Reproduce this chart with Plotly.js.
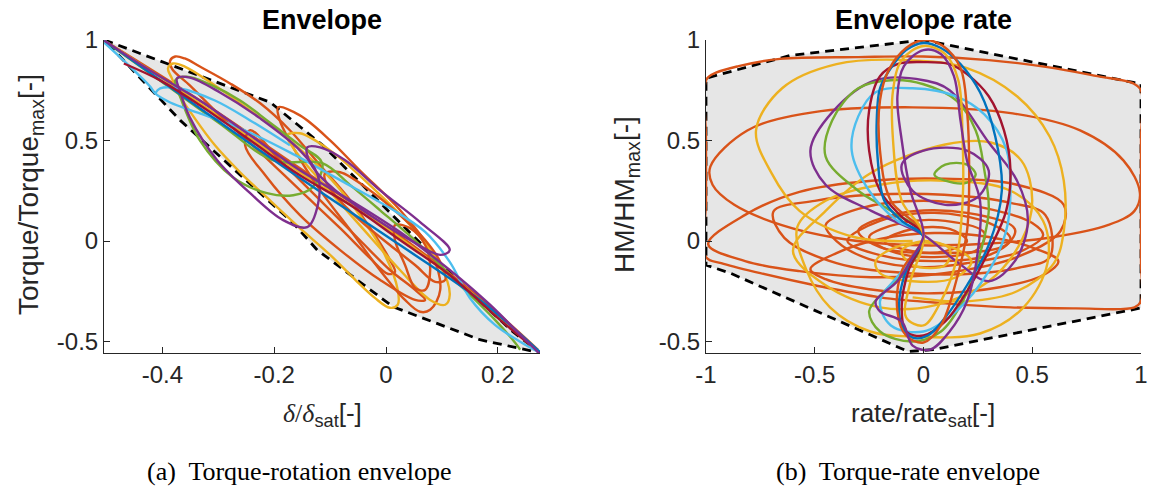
<!DOCTYPE html>
<html>
<head>
<meta charset="utf-8">
<script src="https://cdn.plot.ly/plotly-3.0.1.min.js"></script>
<style>html,body{margin:0;padding:0;background:#fff;}#plot{width:1149px;height:490px;}</style>
</head>
<body>
<div id="plot"></div>
<script>
// ---------- Left panel: torque vs rotation (delta/delta_sat, Torque/Torque_max) ----------
const envLeftX = [-0.504, -0.207, -0.113, -0.011, 0.136, 0.227, 0.2755, 0.168, 0.0125, -0.123, -0.166, -0.368, -0.504];
const envLeftY = [1.0, 0.69, 0.476, 0.193, -0.218, -0.451, -0.556, -0.491, -0.327, -0.045, 0.089, 0.60, 1.0];

const lOrange1X = [-0.386,-0.377,-0.360,-0.333,-0.279,-0.225,-0.172,-0.118,-0.064,-0.020,0.007,0.016,0.004,-0.029,-0.082,-0.154,-0.225,-0.297,-0.351,-0.383,-0.386];
const lOrange1Y = [0.898,0.918,0.908,0.868,0.784,0.685,0.551,0.377,0.203,0.030,-0.094,-0.154,-0.164,-0.084,0.064,0.253,0.441,0.625,0.774,0.858,0.898];
const lYellow1X = [-0.390,-0.381,-0.360,-0.306,-0.243,-0.172,-0.100,-0.047,-0.002,0.021,0.021,0.007,-0.020,-0.055,-0.100,-0.154,-0.208,-0.261,-0.306,-0.342,-0.369,-0.383,-0.390];
const lYellow1Y = [0.858,0.883,0.868,0.774,0.650,0.501,0.313,0.129,-0.069,-0.243,-0.317,-0.332,-0.283,-0.193,-0.069,0.064,0.203,0.342,0.476,0.610,0.724,0.809,0.858];
const lGreen1X = [-0.377,-0.356,-0.315,-0.261,-0.208,-0.154,-0.114,-0.131,-0.166,-0.213,-0.274,-0.333,-0.369,-0.377];
const lGreen1Y = [0.799,0.818,0.779,0.699,0.590,0.476,0.387,0.268,0.228,0.238,0.317,0.501,0.724,0.799];
const lGreen2X = [-0.504,-0.40,-0.30,-0.20,-0.114,-0.064,-0.011,0.061,0.132,0.195,0.231,0.240];
const lGreen2Y = [0.997,0.79,0.59,0.40,0.387,0.278,0.154,-0.020,-0.218,-0.392,-0.506,-0.541];
const lCyan1X = [-0.504,-0.458,-0.422,-0.413,-0.386,-0.333,-0.261,-0.172,-0.082,0.007,0.070,0.114,0.150,0.195,0.240,0.272];
const lCyan1Y = [0.987,0.868,0.769,0.734,0.689,0.635,0.561,0.441,0.303,0.164,0.045,-0.104,-0.283,-0.417,-0.501,-0.551];
const lCyan2X = [-0.413,-0.404,-0.369,-0.306,-0.243,-0.172];
const lCyan2Y = [0.734,0.759,0.759,0.699,0.600,0.476];
const lPurple1X = [-0.374,-0.351,-0.297,-0.225,-0.154,-0.122,-0.122,-0.141,-0.184,-0.243,-0.302,-0.351,-0.369,-0.374];
const lPurple1Y = [0.809,0.813,0.739,0.610,0.451,0.327,0.179,0.069,0.104,0.238,0.402,0.615,0.749,0.809];
const lPurple2X = [-0.141,-0.118,-0.073,-0.011,0.061,0.114,0.097,0.043,-0.029,-0.091,-0.127,-0.141,-0.141];
const lPurple2Y = [0.466,0.466,0.402,0.253,0.094,-0.045,-0.069,0.005,0.129,0.253,0.352,0.427,0.466];
const lPurple3X = [-0.504,-0.422,-0.333,-0.243,-0.154,-0.064,0.025,0.114,0.186,0.240,0.275];
const lPurple3Y = [0.997,0.848,0.699,0.526,0.352,0.203,0.045,-0.144,-0.317,-0.466,-0.561];
const lRedX = [-0.469,-0.404,-0.333,-0.243,-0.154,-0.064,0.025,0.114,0.204,0.258];
const lRedY = [0.883,0.799,0.675,0.501,0.327,0.179,0.005,-0.169,-0.392,-0.516];
const lBlueX = [-0.504,-0.333,-0.154,0.025,0.168,0.275];
const lBlueY = [0.997,0.660,0.313,-0.020,-0.293,-0.551];
const lOrange2X = [-0.193,-0.154,-0.100,-0.047,0.025,0.079,0.097,0.079,0.061,0.034,-0.011,-0.064,-0.118,-0.163,-0.190,-0.193];
const lOrange2Y = [0.665,0.625,0.501,0.352,0.154,-0.045,-0.243,-0.342,-0.352,-0.293,-0.144,0.055,0.253,0.451,0.600,0.665];
const lYellow2X = [-0.177,-0.154,-0.100,-0.029,0.043,0.097,0.114,0.106,0.079,0.025,-0.047,-0.118,-0.163,-0.177];
const lYellow2Y = [0.526,0.536,0.451,0.278,0.079,-0.119,-0.268,-0.317,-0.293,-0.144,0.079,0.303,0.451,0.526];
const lOrange3X = [-0.109,-0.082,-0.029,0.025,0.070,0.097,0.106,0.088,0.052,0.007,-0.047,-0.091,-0.109,-0.109];
const lOrange3Y = [0.337,0.342,0.253,0.129,0.005,-0.104,-0.193,-0.203,-0.119,-0.020,0.104,0.228,0.303,0.337];
const lOrange4X = [-0.243,-0.190,-0.118,-0.047,0.007,0.052,0.070,0.052,-0.011,-0.082,-0.154,-0.216,-0.252,-0.243];
const lOrange4Y = [0.551,0.402,0.203,0.005,-0.144,-0.243,-0.293,-0.293,-0.193,-0.045,0.129,0.327,0.476,0.551];
const lOrange5X = [0.016,0.043,0.070,0.079,0.070,0.052,0.034,0.016,0.016];
const lOrange5Y = [0.079,0.064,-0.020,-0.144,-0.243,-0.233,-0.119,0.005,0.079];
const lYellow3X = [-0.504,-0.333,-0.154,0.025,0.168,0.267];
const lYellow3Y = [0.997,0.684,0.342,0.015,-0.293,-0.541];
const lOrange6X = [-0.504,-0.333,-0.154,0.025,0.168,0.272];
const lOrange6Y = [0.997,0.699,0.362,0.025,-0.283,-0.541];

// ---------- Right panel: torque vs rate (rate/rate_sat, HM/HM_max) ----------
const envRightX = [0.0, -0.614, -1.0, -1.0, -0.89, -0.07, 0.045, 1.0, 1.0, 0.965, 0.0];
const envRightY = [1.0, 0.923, 0.81, -0.12, -0.159, -0.55, -0.54, -0.333, 0.78, 0.789, 1.0];

const rOuterX = [-1.0,-0.97,-0.85,-0.66,-0.3,0.0,0.3,0.57,0.8,0.965,1.0,1.0,1.0,1.0,1.0,0.97,0.7,0.4,0.1,-0.2,-0.5,-0.75,-0.93,-1.0,-1.0,-1.0,-1.0];
const rOuterY = [0.80,0.83,0.87,0.906,0.915,0.918,0.90,0.865,0.82,0.784,0.75,0.5,0.2,-0.1,-0.30,-0.33,-0.335,-0.33,-0.31,-0.28,-0.22,-0.16,-0.11,-0.08,0.2,0.5,0.80];
const rOr1X = [-0.98,-0.81,-0.51,-0.05,0.41,0.72,0.92,0.995,0.97,0.85,0.6,0.26,-0.07,-0.4,-0.655,-0.87,-0.97,-0.98];
const rOr1Y = [0.37,0.55,0.64,0.665,0.635,0.55,0.40,0.24,0.15,0.08,0.02,-0.015,-0.02,0.015,0.08,0.18,0.28,0.37];
const rOr2X = [-0.99,-0.82,-0.57,-0.24,0.095,0.43,0.645,0.63,0.43,0.095,-0.24,-0.57,-0.82,-0.99];
const rOr2Y = [-0.016,0.13,0.245,0.30,0.31,0.28,0.18,0.05,-0.08,-0.16,-0.18,-0.15,-0.10,-0.016];
const rOr3X = [-0.69,-0.5,-0.24,0.095,0.4,0.56,0.58,0.45,0.26,-0.07,-0.4,-0.64,-0.69];
const rOr3Y = [0.147,0.2,0.23,0.23,0.19,0.13,-0.08,-0.13,-0.16,-0.16,-0.11,0.016,0.147];
const rOr4X = [-0.52,-0.4,-0.2,0.05,0.3,0.52,0.62,0.55,0.35,0.05,-0.25,-0.45,-0.52];
const rOr4Y = [-0.14,-0.06,0.01,0.04,0.02,-0.04,-0.10,-0.17,-0.23,-0.26,-0.24,-0.19,-0.14];
const rOr5X = [-0.45,-0.3,0.0,0.3,0.5,0.55,0.45,0.2,0.0,-0.25,-0.4,-0.45];
const rOr5Y = [0.08,0.16,0.20,0.16,0.09,0.03,-0.05,-0.11,-0.13,-0.09,0.0,0.08];
const rOr6X = [-0.35,-0.2,0.05,0.3,0.4,0.3,0.05,-0.2,-0.35];
const rOr6Y = [0.0,0.10,0.14,0.09,0.01,-0.07,-0.10,-0.07,0.0];
const rOr7X = [-0.25,-0.1,0.1,0.28,0.25,0.05,-0.15,-0.25];
const rOr7Y = [0.02,0.09,0.10,0.04,-0.04,-0.08,-0.05,0.02];
const rOr8X = [-0.18,-0.05,0.12,0.2,0.1,-0.05,-0.18];
const rOr8Y = [0.0,0.06,0.06,0.0,-0.05,-0.05,0.0];
const rOr9X = [-0.3,-0.1,0.2,0.42,0.38,0.1,-0.2,-0.3];
const rOr9Y = [0.05,0.14,0.14,0.06,-0.02,-0.06,-0.03,0.05];
const rYe1X = [-0.05,-0.32,-0.57,-0.70,-0.77,-0.65,-0.4,-0.07,0.2,0.43,0.58,0.645,0.645,0.6,0.43,0.2,-0.05];
const rYe1Y = [0.0,0.02,0.15,0.34,0.55,0.76,0.88,0.90,0.86,0.72,0.52,0.30,0.05,-0.11,-0.25,-0.30,-0.28];
const rYe2X = [-0.6,-0.45,-0.24,0.1,0.31,0.45,0.5,0.45,0.3,0.05,-0.2,-0.45,-0.6];
const rYe2Y = [-0.05,0.15,0.34,0.48,0.49,0.40,0.2,0.0,-0.2,-0.32,-0.33,-0.22,-0.05];
const rYe3X = [-0.58,-0.54,-0.43,-0.245,-0.05,0.26,0.46,0.57,0.55,0.4,0.1,-0.2,-0.45,-0.58];
const rYe3Y = [0.07,-0.14,-0.33,-0.45,-0.475,-0.46,-0.33,-0.11,0.1,0.25,0.3,0.28,0.2,0.07];
const rYe4X = [-0.22,-0.1,0.1,0.22,0.15,-0.05,-0.2,-0.22];
const rYe4Y = [-0.1,-0.02,-0.02,-0.1,-0.18,-0.2,-0.16,-0.1];
const rYe5X = [-0.1,0.0,0.12,0.1,-0.05,-0.1];
const rYe5Y = [-0.05,0.0,-0.04,-0.12,-0.12,-0.05];
const rBlueX = [0,-0.1,-0.18,-0.21,-0.215,-0.2,-0.15,-0.08,0,0.08,0.17,0.26,0.33,0.36,0.3,0.2,0.1,0.02,-0.05,-0.1,-0.11,-0.07,0];
const rBlueY = [0.02,0.1,0.2,0.4,0.6,0.76,0.86,0.95,0.985,0.96,0.88,0.74,0.52,0.25,-0.02,-0.22,-0.38,-0.47,-0.48,-0.42,-0.28,-0.12,0.02];
const rOrTallX = [0,-0.15,-0.2,-0.2,-0.16,-0.08,0,0.09,0.17,0.2,0.21,0.2,0.15,0.08,0.0,-0.08,-0.12,-0.1,0];
const rOrTallY = [0.03,0.2,0.45,0.7,0.85,0.96,1.0,0.97,0.86,0.65,0.35,0.05,-0.2,-0.42,-0.505,-0.47,-0.35,-0.15,0.03];
const rYeTallX = [0,-0.1,-0.14,-0.14,-0.1,0,0.1,0.16,0.18,0.18,0.15,0.08,0.0,-0.08,-0.06,0];
const rYeTallY = [0.03,0.2,0.5,0.75,0.9,0.97,0.93,0.8,0.5,0.2,-0.1,-0.3,-0.42,-0.38,-0.2,0.03];
const rPuTallX = [0,-0.06,-0.1,-0.12,-0.09,0,0.08,0.14,0.17,0.2,0.26,0.25,0.2,0.12,0.03,-0.05,-0.1,-0.2,-0.22,-0.12,-0.05,0];
const rPuTallY = [0.03,0.25,0.5,0.72,0.87,0.95,0.93,0.82,0.6,0.4,0.2,-0.05,-0.3,-0.45,-0.54,-0.52,-0.4,-0.35,-0.3,-0.2,-0.08,0.03];
const rRedX = [0,-0.1,-0.2,-0.25,-0.25,-0.2,-0.12,0,0.12,0.2,0.3,0.37,0.4,0.38,0.3,0.2,0.1,0.0,-0.08,-0.1,-0.07,0];
const rRedY = [0.03,0.12,0.25,0.45,0.65,0.82,0.88,0.89,0.88,0.83,0.72,0.55,0.35,0.15,-0.05,-0.25,-0.4,-0.47,-0.45,-0.32,-0.15,0.03];
const rGreenX = [0,-0.15,-0.3,-0.45,-0.42,-0.3,-0.15,0.0,0.15,0.24,0.28,0.3,0.25,0.18,0.08,-0.05,-0.2,-0.25,-0.18,-0.08,0];
const rGreenY = [0.03,0.15,0.25,0.42,0.6,0.76,0.8,0.78,0.7,0.55,0.35,0.15,-0.1,-0.3,-0.45,-0.5,-0.45,-0.35,-0.25,-0.15,0.03];
const rGreen2X = [0.05,0.1,0.2,0.24,0.2,0.1,0.05];
const rGreen2Y = [0.33,0.38,0.38,0.33,0.29,0.30,0.33];
const rCyanX = [0,-0.12,-0.25,-0.33,-0.3,-0.22,-0.05,0.15,0.28,0.38,0.4,0.38,0.3,0.15,0.0,-0.15,-0.2,-0.1,0];
const rCyanY = [0.03,0.1,0.25,0.45,0.62,0.74,0.76,0.72,0.63,0.46,0.25,0.05,-0.15,-0.35,-0.45,-0.42,-0.3,-0.15,0.03];
const rPuBigX = [0,-0.24,-0.45,-0.52,-0.42,-0.22,0.0,0.12,0.3,0.43,0.48,0.42,0.3,0.15,0];
const rPuBigY = [0.03,0.15,0.28,0.45,0.64,0.8,0.8,0.75,0.49,0.3,0.1,-0.1,-0.2,-0.1,0.03];
const rPuInX = [-0.1,0.0,0.2,0.3,0.25,0.1,-0.05,-0.1];
const rPuInY = [0.38,0.45,0.45,0.35,0.22,0.18,0.25,0.38];

// ---------- colours ----------
const C = {blue:'#0072BD', orange:'#D95319', yellow:'#EDB120', purple:'#7E2F8E', green:'#77AC30', cyan:'#4DBEEE', red:'#A2142F'};

const leftSeries = [
  [lOrange6X,lOrange6Y,C.orange],[lYellow3X,lYellow3Y,C.yellow],
  [lOrange1X,lOrange1Y,C.orange],[lYellow1X,lYellow1Y,C.yellow],[lOrange2X,lOrange2Y,C.orange],
  [lOrange4X,lOrange4Y,C.orange],[lYellow2X,lYellow2Y,C.yellow],[lOrange3X,lOrange3Y,C.orange],
  [lOrange5X,lOrange5Y,C.orange],[lGreen1X,lGreen1Y,C.green],[lGreen2X,lGreen2Y,C.green],
  [lCyan1X,lCyan1Y,C.cyan],[lCyan2X,lCyan2Y,C.cyan],[lBlueX,lBlueY,C.blue],
  [lPurple1X,lPurple1Y,C.purple],[lPurple2X,lPurple2Y,C.purple],[lRedX,lRedY,C.red],[lPurple3X,lPurple3Y,C.purple]
];
const rightSeries = [
  [rOuterX,rOuterY,C.orange],[rOr1X,rOr1Y,C.orange],[rOr2X,rOr2Y,C.orange],[rOr3X,rOr3Y,C.orange],
  [rOr4X,rOr4Y,C.orange],[rOr5X,rOr5Y,C.orange],[rOr6X,rOr6Y,C.orange],[rOr7X,rOr7Y,C.orange],
  [rOr8X,rOr8Y,C.orange],[rOr9X,rOr9Y,C.orange],
  [rYe1X,rYe1Y,C.yellow],[rYe2X,rYe2Y,C.yellow],[rYe3X,rYe3Y,C.yellow],[rYe4X,rYe4Y,C.yellow],[rYe5X,rYe5Y,C.yellow],
  [rPuBigX,rPuBigY,C.purple],[rGreenX,rGreenY,C.green],[rGreen2X,rGreen2Y,C.green],[rPuInX,rPuInY,C.purple],
  [rCyanX,rCyanY,C.cyan],[rRedX,rRedY,C.red],[rBlueX,rBlueY,C.blue],[rOrTallX,rOrTallY,C.orange],
  [rYeTallX,rYeTallY,C.yellow],[rPuTallX,rPuTallY,C.purple]
];

const traces = [];
function envTraces(x, y, xa, ya) {
  traces.push({x:x, y:y, xaxis:xa, yaxis:ya, mode:'lines', fill:'toself', fillcolor:'#e6e6e6',
    line:{width:0, color:'rgba(0,0,0,0)'}, hoverinfo:'skip', showlegend:false});
}
envTraces(envLeftX, envLeftY, 'x', 'y');
envTraces(envRightX, envRightY, 'x2', 'y2');
traces.push({x:envLeftX, y:envLeftY, xaxis:'x', yaxis:'y', mode:'lines', line:{color:'#000', width:2.8, dash:'9px,6px'}, showlegend:false});
traces.push({x:envRightX, y:envRightY, xaxis:'x2', yaxis:'y2', mode:'lines', line:{color:'#000', width:2.8, dash:'9px,6px'}, showlegend:false});
leftSeries.forEach(s => traces.push({x:s[0], y:s[1], xaxis:'x', yaxis:'y', mode:'lines',
  line:{color:s[2], width:2.4, shape:'spline', smoothing:1}, showlegend:false}));
rightSeries.forEach(s => traces.push({x:s[0], y:s[1], xaxis:'x2', yaxis:'y2', mode:'lines',
  line:{color:s[2], width:2.4, shape:'spline', smoothing:1}, showlegend:false}));

const W = 1149, H = 490;
const SANS = 'Liberation Sans, Arial, sans-serif';
const axisCommon = {showline:true, linecolor:'#262626', linewidth:1, ticks:'inside', ticklen:6, tickcolor:'#262626',
  tickfont:{family:SANS, size:24, color:'#262626'}, showgrid:false, zeroline:false, mirror:false};
const xTickLeft = [-0.4,-0.2,0,0.2], xTickLeftText = ['-0.4','-0.2','0','0.2'];
const xTickRight = [-1,-0.5,0,0.5,1], xTickRightText = ['-1','-0.5','0','0.5','1'];
const yTick = [-0.5,0,0.5,1], yTickText = ['-0.5','0','0.5','1'];

function ann(text, px, py, size, extra) {
  return Object.assign({text:text, x:px/W, y:1-py/H, xref:'paper', yref:'paper', xanchor:'center', yanchor:'middle',
    showarrow:false, font:{family:SANS, size:size, color:'#262626'}}, extra||{});
}
const SERIF = 'Liberation Serif, Times New Roman, serif';
const layout = {
  width:W, height:H, margin:{l:0,r:0,t:0,b:0}, paper_bgcolor:'#fff', plot_bgcolor:'rgba(0,0,0,0)', showlegend:false,
  xaxis:Object.assign({}, axisCommon, {domain:[104/W, 540/W], range:[-0.5045,0.2755], tickvals:xTickLeft, ticktext:xTickLeftText, anchor:'y'}),
  yaxis:Object.assign({}, axisCommon, {domain:[1-353/H, 1-40/H], range:[-0.557,1.0], tickvals:yTick, ticktext:yTickText, anchor:'x'}),
  xaxis2:Object.assign({}, axisCommon, {domain:[706/W, 1141/W], range:[-1,1], tickvals:xTickRight, ticktext:xTickRightText, anchor:'y2'}),
  yaxis2:Object.assign({}, axisCommon, {domain:[1-353/H, 1-40/H], range:[-0.557,1.0], tickvals:yTick, ticktext:yTickText, anchor:'x2'}),
  annotations:[
    ann('<b>Envelope</b>', 322, 20, 27, {font:{family:SANS, size:27, color:'#000'}}),
    ann('<b>Envelope rate</b>', 923, 20, 27, {font:{family:SANS, size:27, color:'#000'}}),
    ann('Torque/Torque<sub>max</sub>[-]', 30, 195, 28, {textangle:-90}),
    ann('HM/HM<sub>max</sub>[-]', 626, 195, 28, {textangle:-90}),
    ann('<span style="font-family:Liberation Serif"><i>δ</i>/<i>δ</i></span><sub>sat</sub>[-]', 322, 414, 26),
    ann('rate/rate<sub>sat</sub>[-]', 923, 414, 26),
    ann('(a)  Torque-rotation envelope', 299, 471, 26, {font:{family:SERIF, size:26, color:'#000'}}),
    ann('(b)  Torque-rate envelope', 908, 471, 26, {font:{family:SERIF, size:26, color:'#000'}})
  ]
};
Plotly.newPlot('plot', traces, layout, {displayModeBar:false, staticPlot:true});
</script>
</body>
</html>
